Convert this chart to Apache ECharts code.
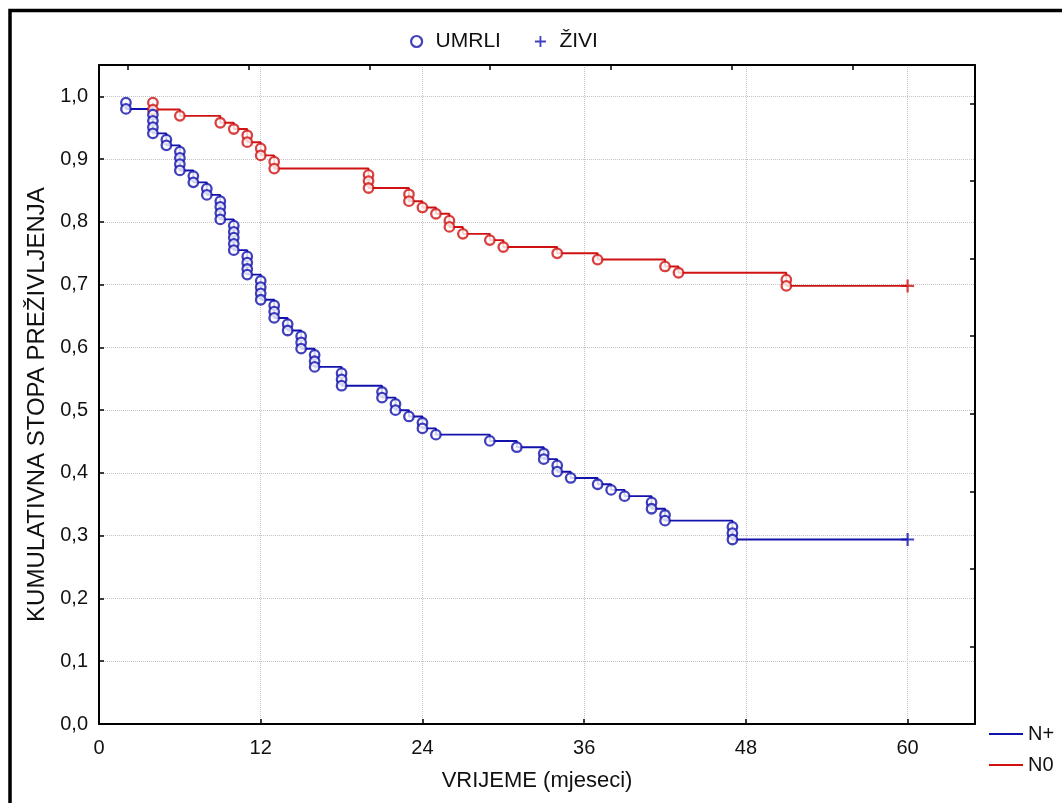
<!DOCTYPE html>
<html>
<head>
<meta charset="utf-8">
<script src="https://cdn.jsdelivr.net/npm/echarts@6/dist/echarts.min.js"></script>
<style>
html,body{margin:0;padding:0;background:#fff;}
#chart{width:1062px;height:803px;}
</style>
</head>
<body>
<div id="chart"></div>
<script>
// ---- data ----
const nPlusTimes = [2,2,4,4,4,4,5,5,6,6,6,6,7,7,8,8,9,9,9,9,10,10,10,10,10,11,11,11,11,12,12,12,12,13,13,13,14,14,15,15,15,16,16,16,18,18,18,21,21,22,22,23,24,24,25,29,31,33,33,34,34,35,37,38,39,41,41,42,42,47,47,47];
const nPlusSurv = [0.990,0.980,0.971,0.961,0.951,0.941,0.931,0.922,0.912,0.902,0.892,0.882,0.873,0.863,0.853,0.843,0.833,0.824,0.814,0.804,0.794,0.784,0.775,0.765,0.755,0.745,0.735,0.725,0.716,0.706,0.696,0.686,0.676,0.667,0.657,0.647,0.637,0.627,0.618,0.608,0.598,0.588,0.578,0.569,0.559,0.549,0.539,0.529,0.520,0.510,0.500,0.490,0.480,0.471,0.461,0.451,0.441,0.431,0.422,0.412,0.402,0.392,0.382,0.373,0.363,0.353,0.343,0.333,0.324,0.314,0.304,0.294];
const nPlusCensorTimes = [60];
const nPlusCensorSurv = [0.294];

const n0Times = [4,4,6,9,10,11,11,12,12,13,13,20,20,20,23,23,24,25,26,26,27,29,30,34,37,42,43,51,51];
const n0Surv = [0.990,0.979,0.969,0.958,0.948,0.938,0.927,0.917,0.906,0.896,0.885,0.875,0.865,0.854,0.844,0.833,0.823,0.813,0.802,0.792,0.781,0.771,0.760,0.750,0.740,0.729,0.719,0.708,0.698];
const n0CensorTimes = [60];
const n0CensorSurv = [0.698];

const xTickValues = [0,12,24,36,48,60];
const yTickValues = [0,0.1,0.2,0.3,0.4,0.5,0.6,0.7,0.8,0.9,1.0];
const topTickValues = [2.15,11.11,20.07,29.03,37.99,46.95,55.91];
const rightTickValues = [0.1236,0.2472,0.3708,0.4944,0.618,0.7416,0.8652,0.9888];

const seriesNames = ['N+','N0'];
const markerNames = ['UMRLI','ŽIVI'];
const xTitle = 'VRIJEME (mjeseci)';
const yTitle = 'KUMULATIVNA STOPA PREŽIVLJENJA';

// ---- styling ----
const BLUE = '#1212ac';
const RED = '#d01212';
const FONT = 'Liberation Sans, Arial, sans-serif';
const plusPath = 'path://M5,0h2v12h-2z M0,5h12v2h-12z';
const linePath = 'path://M0,0h34v2h-34z';

function zip(a, b){ return a.map((v,i)=>[v, b[i]]); }
function stepData(t, s, ct, cs){ return zip(t, s).concat(zip(ct, cs)); }

const chart = echarts.init(document.getElementById('chart'), null, {renderer:'canvas'});

const option = {
  backgroundColor:'#fff',
  animation:false,
  textStyle:{fontFamily:FONT},
  graphic:[{
    type:'rect', silent:true,
    shape:{x:10, y:10.5, width:1200, height:1000},
    style:{fill:'none', stroke:'#000', lineWidth:3.5}
  }],
  grid:{left:99, right:87, top:65, bottom:79, containLabel:false},
  legend:[{
    data:[
      {name:markerNames[0], icon:'circle', itemStyle:{color:'#fff', borderColor:BLUE, borderWidth:2.2}},
      {name:markerNames[1], icon:plusPath, itemStyle:{color:BLUE}}
    ],
    left:405, top:26,
    itemWidth:28, itemHeight:11, itemGap:34,
    textStyle:{fontFamily:FONT, fontSize:21, color:'#111'}
  },{
    data:[
      {name:seriesNames[0], icon:linePath},
      {name:seriesNames[1], icon:linePath}
    ],
    orient:'vertical',
    left:984, top:719,
    itemWidth:34, itemHeight:2, itemGap:11,
    textStyle:{fontFamily:FONT, fontSize:20, color:'#111'}
  }],
  xAxis:[{
    type:'value', min:0, max:65, interval:12,
    name:xTitle, nameLocation:'middle', nameGap:46,
    nameTextStyle:{fontFamily:FONT, fontSize:22, color:'#111'},
    axisLine:{show:true, onZero:false, lineStyle:{color:'#000', width:2}},
    axisTick:{show:true, inside:true, length:5, customValues:xTickValues, lineStyle:{color:'#000', width:1.5}},
    axisLabel:{customValues:xTickValues, margin:14, fontFamily:FONT, fontSize:20, color:'#111'},
    splitLine:{show:true, lineStyle:{color:'#c4c4c4', type:'dotted', width:1}}
  },{
    type:'value', position:'top', min:0, max:65,
    axisLine:{show:true, onZero:false, lineStyle:{color:'#000', width:2}},
    axisTick:{show:true, inside:true, length:5, customValues:topTickValues, lineStyle:{color:'#000', width:1.5}},
    axisLabel:{show:false},
    splitLine:{show:false}
  }],
  yAxis:[{
    type:'value', min:0, max:1.05, interval:0.1,
    name:yTitle, nameLocation:'middle', nameGap:50, nameRotate:90,
    nameTextStyle:{fontFamily:FONT, fontSize:24, color:'#111', padding:[0,20,0,0]},
    axisLine:{show:true, onZero:false, lineStyle:{color:'#000', width:2}},
    axisTick:{show:true, inside:true, length:5, customValues:yTickValues, lineStyle:{color:'#000', width:1.5}},
    axisLabel:{customValues:yTickValues, margin:11, fontFamily:FONT, fontSize:20, color:'#111',
      formatter:function(v){ return v.toFixed(1).replace('.', ','); }},
    splitLine:{show:true, lineStyle:{color:'#c4c4c4', type:'dotted', width:1}}
  },{
    type:'value', position:'right', min:0, max:1.05,
    axisLine:{show:true, onZero:false, lineStyle:{color:'#000', width:2}},
    axisTick:{show:true, inside:true, length:5, customValues:rightTickValues, lineStyle:{color:'#000', width:1.5}},
    axisLabel:{show:false},
    splitLine:{show:false}
  }],
  series:[
    {
      name:seriesNames[0], type:'line', step:'end', symbol:'none',
      data:stepData(nPlusTimes, nPlusSurv, nPlusCensorTimes, nPlusCensorSurv),
      lineStyle:{color:BLUE, width:1.9}, itemStyle:{color:BLUE}, z:2
    },
    {
      name:seriesNames[1], type:'line', step:'end', symbol:'none',
      data:stepData(n0Times, n0Surv, n0CensorTimes, n0CensorSurv),
      lineStyle:{color:RED, width:1.9}, itemStyle:{color:RED}, z:2
    },
    {
      name:markerNames[0], type:'scatter', symbol:'circle', symbolSize:9.5,
      data:zip(nPlusTimes, nPlusSurv),
      itemStyle:{color:'#fff', borderColor:BLUE, borderWidth:2.3}, z:4
    },
    {
      name:markerNames[0], type:'scatter', symbol:'circle', symbolSize:9.5,
      data:zip(n0Times, n0Surv),
      itemStyle:{color:'#fff', borderColor:RED, borderWidth:2.3}, z:3
    },
    {
      name:markerNames[1], type:'scatter', symbol:plusPath, symbolSize:13,
      data:zip(nPlusCensorTimes, nPlusCensorSurv),
      itemStyle:{color:BLUE}, z:4
    },
    {
      name:markerNames[1], type:'scatter', symbol:plusPath, symbolSize:13,
      data:zip(n0CensorTimes, n0CensorSurv),
      itemStyle:{color:RED}, z:4
    }
  ]
};
chart.setOption(option);
</script>
</body>
</html>
